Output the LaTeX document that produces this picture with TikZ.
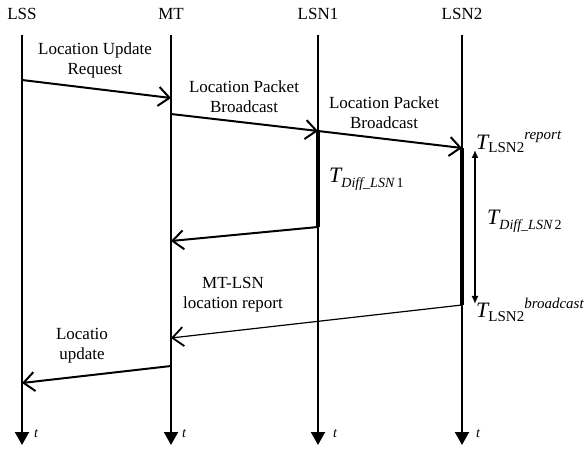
\documentclass[tikz,border=0pt]{standalone}
\usepackage{fontspec}
\setmainfont{Liberation Serif}
\usetikzlibrary{arrows.meta}
% big italic time symbol and its small sub/superscripts
\newcommand{\Tbig}{{\fontsize{22}{22}\selectfont\itshape T}}
\newcommand{\smalltxt}{\fontsize{15}{15}\selectfont}
\begin{document}
\begin{tikzpicture}[x=1pt,y=-1pt,
  every node/.style={font=\fontsize{17}{20}\selectfont, inner sep=0pt, align=center},
  lifeline/.style={line width=2pt, -{Triangle[length=13pt,width=14pt]}},
  busy/.style={line width=4pt},
  msg/.style={line width=2pt, -{Straight Barb[length=11pt,width=19pt,line width=2pt]}},
  thinmsg/.style={line width=1.2pt, -{Straight Barb[length=11pt,width=19pt,line width=1.8pt]}},
  span/.style={line width=1.5pt, {Latex[length=8pt,width=7pt]}-{Latex[length=8pt,width=7pt]}},
  tlabel/.style={font=\fontsize{14}{14}\selectfont\itshape}
]
\useasboundingbox (0,0) rectangle (587,449);

% entity names
\node (LSS)  at (22,14)  {LSS};
\node (MT)   at (171,14) {MT};
\node (LSN1) at (318,14) {LSN1};
\node (LSN2) at (462,14) {LSN2};

% lifeline ends
\coordinate (LSSa)  at (22,35);  \coordinate (LSSb)  at (22,445);
\coordinate (MTa)   at (171,35); \coordinate (MTb)   at (171,445);
\coordinate (LSN1a) at (318,35); \coordinate (LSN1b) at (318,445);
\coordinate (LSN2a) at (462,35); \coordinate (LSN2b) at (462,445);

\draw[lifeline] (LSSa) -- (LSSb);
\draw[lifeline] (MTa) -- (MTb);
\draw[lifeline] (LSN1a) -- (LSN1b);
\draw[lifeline] (LSN2a) -- (LSN2b);

% time labels
\node[tlabel] (t1) at (36,434)  {t};
\node[tlabel] (t2) at (184,434) {t};
\node[tlabel] (t3) at (335,434) {t};
\node[tlabel] (t4) at (478,434) {t};

% events on the lifelines
\coordinate (e1s) at (22,80);   \coordinate (e1e) at (171,98);
\coordinate (e2s) at (171,114); \coordinate (e2e) at (318,131);
\coordinate (e3e) at (462,148);
\coordinate (e4s) at (318,227); \coordinate (e4e) at (171,241);
\coordinate (e5s) at (462,305); \coordinate (e5e) at (171,338);
\coordinate (e6s) at (171,366); \coordinate (e6e) at (22,383);

% waiting intervals
\draw[busy] (e2e) -- (e4s);
\draw[busy] (e3e) -- (e5s);

% messages
\draw[msg] (e1s) -- (e1e);
\draw[msg] (e2s) -- (e2e);
\draw[msg] (e2e) -- (e3e);
\draw[msg] (e4s) -- (e4e);
\draw[thinmsg] (e5s) -- (e5e);
\draw[msg] (e6s) -- (e6e);

% message labels
\node (l1) at (95,60)   {Location Update\\Request};
\node (l2) at (244,97)  {Location Packet\\Broadcast};
\node (l3) at (384,113) {Location Packet\\Broadcast};
\node (l5) at (233,295) {MT-LSN\\location report};
\node (l6) at (82,346)  {Locatio\\update};

% timing annotations
\coordinate (d2a) at (475,150);
\coordinate (d2b) at (475,304);
\draw[span] (d2a) -- (d2b);

\node[anchor=base west] (Trep) at (476,150)
  {\Tbig\raisebox{-3pt}{\smalltxt LSN2}\raisebox{10pt}{\smalltxt\itshape report}};
\node[anchor=base west] (Tbc) at (476,318)
  {\Tbig\raisebox{-4pt}{\smalltxt LSN2}\raisebox{9pt}{\smalltxt\itshape broadcast}};
\node[anchor=base west] (Td1) at (329,183)
  {\Tbig\raisebox{-5pt}{\fontsize{14}{14}\selectfont\itshape Diff\_LSN\,\upshape 1}};
\node[anchor=base west] (Td2) at (487,225)
  {\Tbig\raisebox{-5pt}{\fontsize{14}{14}\selectfont\itshape Diff\_LSN\,\upshape 2}};
\end{tikzpicture}
\end{document}
